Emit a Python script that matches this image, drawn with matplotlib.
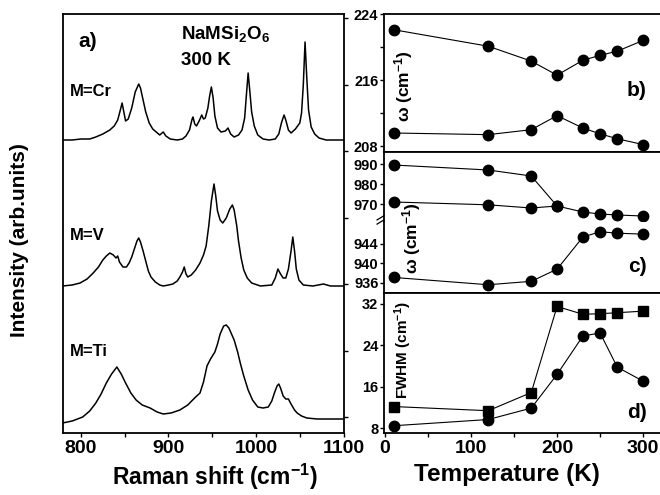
import matplotlib
matplotlib.use('Agg')
import matplotlib.pyplot as plt
from matplotlib.ticker import MultipleLocator, NullFormatter
import numpy as np

plt.rcParams['font.family'] = ['Liberation Sans', 'DejaVu Sans']
plt.rcParams['font.weight'] = 'bold'
plt.rcParams['mathtext.fontset'] = 'custom'
plt.rcParams['mathtext.rm'] = 'Liberation Sans:bold'
plt.rcParams['mathtext.it'] = 'Liberation Sans:bold'
plt.rcParams['mathtext.bf'] = 'Liberation Sans:bold'
plt.rcParams['mathtext.default'] = 'rm'

# ---- panel a: Raman spectra (shift in cm-1, height above own baseline) ----
cr_shift = [779, 790, 800, 810, 817, 825, 833, 838, 842, 845, 847, 849, 851, 854, 858,
            862, 866, 868, 871, 874, 878, 882, 886, 890, 894, 897, 902, 910, 916, 920,
            924, 927, 928, 930, 932, 935, 938, 940, 942, 945, 947, 949, 951, 953, 956,
            960, 965, 968, 971, 975, 980, 984, 987, 989, 991, 993, 995, 998, 1002, 1008,
            1015, 1022, 1026, 1029, 1032, 1034, 1037, 1040, 1045, 1050, 1052, 1054, 1056,
            1058, 1060, 1063, 1067, 1072, 1080, 1100]
cr_int = [0, 0, 1, 1, 3, 6, 10, 14, 20, 30, 37, 28, 19, 21, 32,
          48, 56, 52, 40, 28, 17, 11, 8, 5, 8, 4, 1, 0, 1, 4,
          10, 21, 23, 16, 14, 19, 25, 21, 22, 32, 44, 53, 42, 24, 12,
          8, 9, 12, 6, 3, 5, 10, 22, 45, 67, 48, 28, 14, 5, 1,
          0, 1, 6, 17, 25, 20, 10, 7, 11, 17, 27, 55, 98,
          62, 30, 13, 6, 2, 0, 0]

v_shift = [779, 790, 799, 807, 814, 820, 825, 829, 833, 837, 840, 842, 844, 848, 852,
           855, 858, 861, 864, 866, 868, 871, 874, 877, 880, 885, 890, 894, 900, 905,
           910, 913, 916, 918, 920, 922, 926, 931, 936, 940, 943, 946, 949, 952, 954,
           956, 959, 962, 966, 970, 973, 975, 978, 980, 983, 986, 990, 995, 1005, 1018,
           1022, 1025, 1028, 1031, 1034, 1037, 1040, 1042, 1044, 1046, 1049, 1054, 1065,
           1077, 1085, 1100]
v_int = [0, 1, 3, 7, 13, 19, 26, 30, 33, 31, 28, 30, 24, 19, 19,
         23, 29, 37, 45, 48, 44, 35, 25, 15, 9, 4, 1, 0, 1, 2,
         5, 9, 14, 19, 12, 9, 11, 16, 23, 31, 40, 60, 85, 102, 90,
         75, 66, 63, 68, 77, 81, 76, 60, 45, 28, 16, 8, 3, 0, 1,
         8, 17, 12, 8, 8, 17, 35, 49, 35, 17, 6, 1, 0,
         2, 0, 0]

ti_shift = [779, 790, 802, 810, 817, 823, 829, 835, 841, 846, 851, 857, 863, 870, 879,
            887, 894, 903, 913, 922, 931, 936, 940, 944, 948, 953, 956, 959, 963, 966,
            969, 972, 975, 979, 982, 986, 991, 996, 1002, 1008, 1014, 1018, 1021, 1024,
            1026, 1028, 1031, 1034, 1037, 1040, 1044, 1047, 1052, 1058, 1070, 1085, 1099]
ti_int = [1, 3, 7, 13, 21, 30, 41, 50, 57, 50, 41, 31, 24, 19, 16,
          12, 10, 11, 14, 19, 27, 31, 42, 58, 65, 72, 80, 90, 98, 99,
          96, 90, 84, 72, 61, 48, 34, 24, 17, 16, 17, 23, 31, 38,
          40, 36, 28, 25, 25, 20, 14, 11, 8, 6, 5, 5, 5]

spectra = [(cr_shift, cr_int), (v_shift, v_int), (ti_shift, ti_int)]
offsets = [293, 147, 9]
names = ['M=Cr', 'M=V', 'M=Ti']

# ---- panels b-d: temperature dependence ----
temp = [10, 120, 170, 200, 230, 250, 270, 300]
b_upper = [222.1, 220.1, 218.3, 216.6, 218.4, 219.0, 219.5, 220.8]
b_lower = [209.6, 209.4, 210.0, 211.7, 210.2, 209.5, 208.9, 208.2]
c_high = [989.5, 987, 984, 969]          # merges at 200 K
c_mid = [971, 969.6, 968, 969, 966, 965, 964.5, 964]
c_low = [937.1, 935.6, 936.3, 938.8, 945.4, 946.5, 946.2, 946.0]
d_square = [12.2, 11.4, 14.9, 31.5, 30.0, 30.1, 30.3, 30.6]
d_circle = [8.5, 9.7, 11.9, 18.4, 25.8, 26.4, 19.8, 17.1]

W, H = 660, 495
fig = plt.figure(figsize=(6.6, 4.95), dpi=100)


def box(x0, y0, x1, y1):
    # pixel box -> figure fraction
    return [x0 / W, 1 - y1 / H, (x1 - x0) / W, (y1 - y0) / H]


lw_sp = 1.3

# panel a
axa = fig.add_axes(box(63, 14, 344, 433))
for (s, i), off in zip(spectra, offsets):
    axa.plot(s, np.array(i) + off, color='black', lw=1.1)
axa.set_xlim(779.5, 1100.5)
axa.set_ylim(0, 419)
axa.xaxis.set_major_locator(MultipleLocator(100))
axa.xaxis.set_minor_locator(MultipleLocator(50))
axa.tick_params(axis='x', which='both', direction='out', length=3, width=1, labelsize=14, pad=2)
axa.yaxis.tick_right()
axa.set_yticks(np.arange(16, 419, 66.5))
axa.yaxis.set_major_formatter(NullFormatter())
axa.tick_params(axis='y', direction='out', length=3, width=1)
for sp in axa.spines.values():
    sp.set_linewidth(lw_sp)
axa.text(0.055, 0.935, 'a)', transform=axa.transAxes, fontsize=15, va='center')
axa.text(0.42, 0.953, 'NaMSi$_2$O$_6$', transform=axa.transAxes, fontsize=13.5, va='center')
axa.text(0.42, 0.89, '300 K', transform=axa.transAxes, fontsize=13.5, va='center')
label_y = [341, 198, 81]
for nm, ly in zip(names, label_y):
    axa.text(787, ly, nm, fontsize=12, va='center')

fig.text(20 / W, 1 - 240 / H, 'Intensity (arb.units)', rotation=90, fontsize=15,
         ha='center', va='center')
fig.text(215 / W, 1 - 477 / H, 'Raman shift (cm$^{-1}$)', fontsize=16.5,
         ha='center', va='center')

# right panels
xl = (-1.2, 322)
axb = fig.add_axes(box(384, 14, 662, 152))
axct = fig.add_axes(box(384, 152, 662, 222))
axcb = fig.add_axes(box(384, 222, 662, 293))
axd = fig.add_axes(box(384, 293, 662, 433))

mk = dict(color='black', lw=0.8, marker='o', ms=7.5)
axb.plot(temp, b_upper, **mk)
axb.plot(temp, b_lower, **mk)
axb.set_ylim(207.3, 224)
axb.yaxis.set_major_locator(MultipleLocator(8))
axb.yaxis.set_minor_locator(MultipleLocator(4))

axct.plot(temp[:4], c_high, **mk)
axct.plot(temp, c_mid, **mk)
axct.set_ylim(961, 996)
axct.set_yticks([970, 980, 990])

axcb.plot(temp, c_low, **mk)
axcb.set_ylim(933.9, 948.5)
axcb.set_yticks([936, 940, 944])

axd.plot(temp, d_square, color='black', lw=0.8, marker='s', ms=7)
axd.plot(temp, d_circle, **mk)
axd.set_ylim(7.1, 34.1)
axd.yaxis.set_major_locator(MultipleLocator(8))

for ax in (axb, axct, axcb, axd):
    ax.set_xlim(*xl)
    for sp in ax.spines.values():
        sp.set_linewidth(lw_sp)
    ax.tick_params(axis='y', which='both', direction='out', length=3, width=1,
                   labelsize=10.5, pad=1)
    if ax is not axd:
        ax.set_xticks([])

axct.spines['bottom'].set_visible(False)
axcb.spines['top'].set_visible(False)
# break marks on the c) axis
for yy in (0.0, 0.06):
    axct.plot([-0.025, 0.0], [yy - 0.03, yy + 0.03], transform=axct.transAxes,
              color='black', lw=0.9, clip_on=False)

axd.xaxis.set_major_locator(MultipleLocator(100))
axd.xaxis.set_minor_locator(MultipleLocator(50))
axd.tick_params(axis='x', which='both', direction='out', length=3, width=1,
                labelsize=14, pad=2)

axb.text(0.07, 0.478, 'ω (cm$^{-1}$)', transform=axb.transAxes, rotation=90,
         fontsize=12.5, ha='center', va='center')
fig.text(412 / W, 1 - 238 / H, 'ω (cm$^{-1}$)', rotation=90, fontsize=12.5,
         ha='center', va='center')
axd.text(0.07, 0.593, 'FWHM (cm$^{-1}$)', transform=axd.transAxes, rotation=90,
         fontsize=11, ha='center', va='center')

fig.text(637 / W, 1 - 91 / H, 'b)', fontsize=15, ha='center', va='center')
fig.text(637 / W, 1 - 267 / H, 'c)', fontsize=15, ha='center', va='center')
fig.text(637 / W, 1 - 413 / H, 'd)', fontsize=15, ha='center', va='center')
fig.text(507 / W, 1 - 475 / H, 'Temperature (K)', fontsize=17.5, ha='center', va='center')

fig.savefig('out.png', dpi=100)
